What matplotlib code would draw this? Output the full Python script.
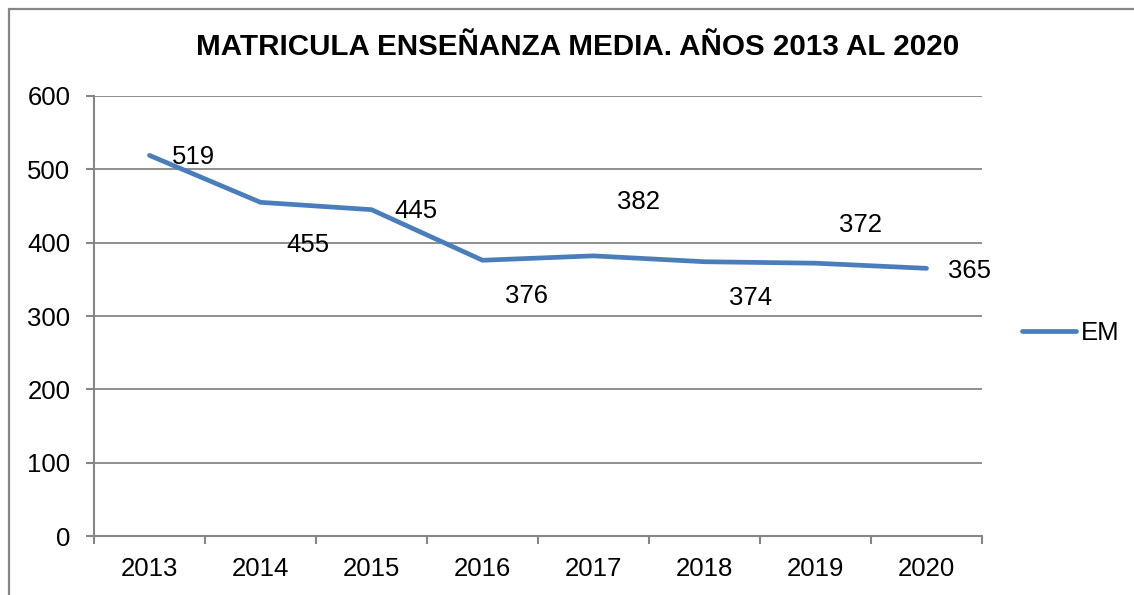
import matplotlib
matplotlib.use("Agg")
import matplotlib.pyplot as plt
from matplotlib.patches import Rectangle
from matplotlib.ticker import MultipleLocator, FixedLocator

plt.rcParams['font.family'] = ['Liberation Sans', 'DejaVu Sans']

# data
years = ['2013', '2014', '2015', '2016', '2017', '2018', '2019', '2020']
em = [519, 455, 445, 376, 382, 374, 372, 365]
series_name = 'EM'
title = 'MATRICULA ENSEÑANZA MEDIA. AÑOS 2013 AL 2020'

# label offsets in pixels (dx, dy) relative to each point, as in the original
lbl_off = [(44, -2), (47, -43), (44, -1), (44, -36), (45, 54), (46, -36), (45, 38), (43, -3)]

W, H = 1134, 595
fig = plt.figure(figsize=(W / 100, H / 100), dpi=100)
gray = '#868686'
blue = '#4A7EBB'

# outer chart border (cut at right and bottom like the screenshot)
fig.patches.append(Rectangle((9 / W, -0.05), 1.2, 1 - 9 / H + 0.05, transform=fig.transFigure,
                             fill=False, edgecolor=gray, lw=1.6, zorder=0))

ax = fig.add_axes([94 / W, 1 - 536 / H, (982 - 94) / W, (536 - 96) / H])
x = list(range(len(years)))
ax.plot(x, em, color=blue, lw=3.4, solid_capstyle='round', label=series_name, zorder=3)

ax.set_xlim(-0.5, len(years) - 0.5)
ax.set_ylim(0, 600)
ax.yaxis.set_major_locator(MultipleLocator(100))
ax.grid(axis='y', color=gray, lw=1.3)
ax.set_axisbelow(True)

for s in ['top', 'right']:
    ax.spines[s].set_visible(False)
for s in ['left', 'bottom']:
    ax.spines[s].set_color(gray)
    ax.spines[s].set_linewidth(1.5)

fs = 18.5
ax.set_xticks(x)
ax.set_xticklabels(years)
ax.xaxis.set_minor_locator(FixedLocator([i - 0.5 for i in range(len(years) + 1)]))
ax.tick_params(axis='x', which='major', length=0, pad=15, labelsize=fs)
ax.tick_params(axis='x', which='minor', length=6, width=1.5, color=gray, direction='out')
ax.tick_params(axis='y', length=6, width=1.5, color=gray, pad=11, labelsize=fs)

for xi, v, (dx, dy) in zip(x, em, lbl_off):
    ax.annotate(str(v), (xi, v), xytext=(dx * 0.72, dy * 0.72), textcoords='offset points',
                ha='center', va='center', fontsize=fs)

fig.text(578 / W, 1 - 47 / H, title, ha='center', va='center', fontsize=21.3, fontweight='bold')

leg = fig.legend(loc='center left', bbox_to_anchor=(1022 / W, 1 - 333 / H), frameon=False,
                 fontsize=fs, handlelength=2.1, handletextpad=0.2, borderpad=0, borderaxespad=0)

fig.savefig('out.png', dpi=100)
